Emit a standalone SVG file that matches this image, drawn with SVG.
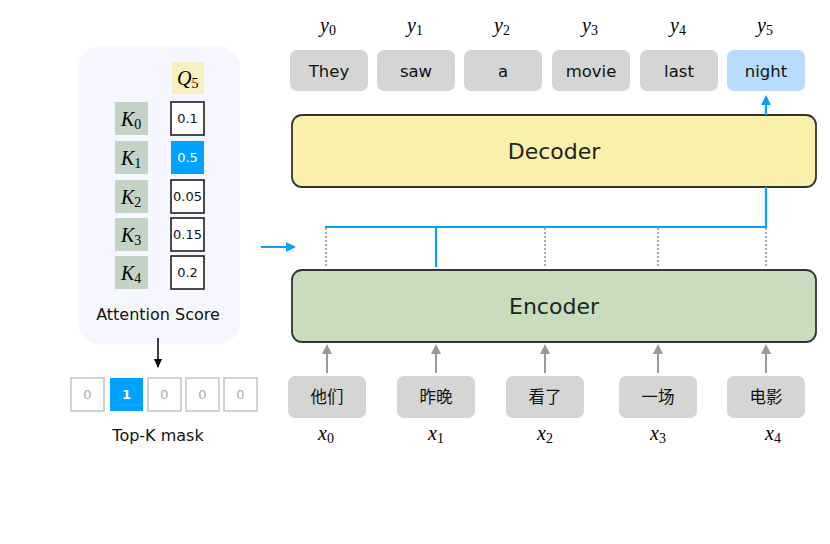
<svg xmlns="http://www.w3.org/2000/svg" width="830" height="544" viewBox="0 0 830 544">
<style>
.sans{font-family:"DejaVu Sans","Noto Sans CJK SC",sans-serif;}
.math{font-family:"Liberation Serif",serif;font-style:italic;font-size:20px;fill:#000;}
.sub{font-style:normal;font-size:14px;}
.tok{fill:#d5d5d5;}
.tt{font-size:16.5px;fill:#111;text-anchor:middle;}
.kb{fill:#c3d4c6;}
.sb{fill:#fff;stroke:#111;stroke-width:1.5;}
.st{font-size:13px;fill:#111;text-anchor:middle;}
.mb{fill:#fff;stroke:#c4c4c4;stroke-width:1.5;}
.mt{font-size:13px;fill:#aaa;text-anchor:middle;}
.gray{stroke:#999;stroke-width:2;fill:none;}
.blue{stroke:#0aa0f5;stroke-width:2.2;fill:none;}
.dot{stroke:#aaa;stroke-width:2;stroke-dasharray:2 2;fill:none;}
</style>
<defs>
<marker id="ag" markerWidth="10" markerHeight="10" refX="8" refY="5" orient="auto" markerUnits="userSpaceOnUse"><path d="M0,0 L10,5 L0,10 z" fill="#999"/></marker>
<marker id="ab" markerWidth="10" markerHeight="10" refX="8" refY="5" orient="auto" markerUnits="userSpaceOnUse"><path d="M0,0 L10,5 L0,10 z" fill="#0aa0f5"/></marker>
<marker id="ak" markerWidth="10" markerHeight="10" refX="8" refY="5" orient="auto" markerUnits="userSpaceOnUse"><path d="M0,1 L9,5 L0,9 z" fill="#000"/></marker>
</defs>
<rect width="830" height="544" fill="#fff"/>

<g id="attention-panel">
<rect x="78" y="46" width="162" height="298" rx="22" fill="#f6f6fe"/>
<rect x="172" y="62" width="32" height="32" fill="#f8f0c0"/>
<text class="math" x="177" y="85">Q<tspan class="sub" dy="3">5</tspan></text>
<rect class="kb" x="115" y="102" width="33" height="33"/>
<text class="math" x="121" y="126">K<tspan class="sub" dy="3">0</tspan></text>
<rect class="kb" x="115" y="141" width="33" height="33"/>
<text class="math" x="121" y="165">K<tspan class="sub" dy="3">1</tspan></text>
<rect class="kb" x="115" y="180" width="33" height="33"/>
<text class="math" x="121" y="204">K<tspan class="sub" dy="3">2</tspan></text>
<rect class="kb" x="115" y="218" width="33" height="33"/>
<text class="math" x="121" y="242">K<tspan class="sub" dy="3">3</tspan></text>
<rect class="kb" x="115" y="256" width="33" height="33"/>
<text class="math" x="121" y="280">K<tspan class="sub" dy="3">4</tspan></text>
<rect class="sb" x="171" y="102" width="33" height="33"/>
<text class="sans st" x="187.5" y="123">0.1</text>
<rect x="171" y="141" width="33" height="33" fill="#00a2ff"/>
<text class="sans st" x="187.5" y="162" style="fill:#fff">0.5</text>
<rect class="sb" x="171" y="180" width="33" height="33"/>
<text class="sans st" x="187.5" y="201">0.05</text>
<rect class="sb" x="171" y="218" width="33" height="33"/>
<text class="sans st" x="187.5" y="239">0.15</text>
<rect class="sb" x="171" y="256" width="33" height="33"/>
<text class="sans st" x="187.5" y="277">0.2</text>
<text class="sans" x="158" y="320" font-size="16" text-anchor="middle" fill="#111">Attention Score</text>
</g>

<g id="topk-mask">
<rect class="mb" x="71" y="378" width="33" height="33"/>
<text class="sans mt" x="87.5" y="399">0</text>
<rect x="110" y="378" width="33" height="33" fill="#00a2ff"/>
<text class="sans" x="126.5" y="399" font-size="13" font-weight="bold" fill="#fff" text-anchor="middle">1</text>
<rect class="mb" x="148" y="378" width="33" height="33"/>
<text class="sans mt" x="164.5" y="399">0</text>
<rect class="mb" x="186" y="378" width="33" height="33"/>
<text class="sans mt" x="202.5" y="399">0</text>
<rect class="mb" x="224" y="378" width="33" height="33"/>
<text class="sans mt" x="240.5" y="399">0</text>
<text class="sans" x="158" y="441" font-size="16" text-anchor="middle" fill="#111">Top-K mask</text>
</g>

<g id="outputs">
<rect class="tok" x="290" y="50" width="78" height="41" rx="7"/>
<text class="sans tt" x="329" y="77">They</text>
<rect class="tok" x="377" y="50" width="78" height="41" rx="7"/>
<text class="sans tt" x="416" y="77">saw</text>
<rect class="tok" x="464" y="50" width="78" height="41" rx="7"/>
<text class="sans tt" x="503" y="77">a</text>
<rect class="tok" x="552" y="50" width="78" height="41" rx="7"/>
<text class="sans tt" x="591" y="77">movie</text>
<rect class="tok" x="640" y="50" width="78" height="41" rx="7"/>
<text class="sans tt" x="679" y="77">last</text>
<rect x="727" y="50" width="78" height="41" rx="7" fill="#b8dcff"/>
<text class="sans tt" x="766" y="77">night</text>
<text class="math" x="320" y="32">y<tspan class="sub" dy="3">0</tspan></text>
<text class="math" x="407" y="32">y<tspan class="sub" dy="3">1</tspan></text>
<text class="math" x="494" y="32">y<tspan class="sub" dy="3">2</tspan></text>
<text class="math" x="582" y="32">y<tspan class="sub" dy="3">3</tspan></text>
<text class="math" x="670" y="32">y<tspan class="sub" dy="3">4</tspan></text>
<text class="math" x="757" y="32">y<tspan class="sub" dy="3">5</tspan></text>
</g>

<g id="decoder">
<rect x="292" y="115" width="524" height="72" rx="10" fill="#f9f1a9" stroke="#333" stroke-width="1.8"/>
<text class="sans" x="554" y="159" font-size="22" text-anchor="middle" fill="#222">Decoder</text>
</g>

<g id="encoder">
<rect x="292" y="270" width="524" height="72" rx="10" fill="#c7ddbe" stroke="#333" stroke-width="1.8"/>
<text class="sans" x="554" y="314" font-size="22" text-anchor="middle" fill="#222">Encoder</text>
</g>

<g id="inputs">
<rect class="tok" x="288" y="376" width="78" height="42" rx="7"/>
<text class="sans tt" x="327" y="403">他们</text>
<rect class="tok" x="397" y="376" width="78" height="42" rx="7"/>
<text class="sans tt" x="436" y="403">昨晚</text>
<rect class="tok" x="506" y="376" width="78" height="42" rx="7"/>
<text class="sans tt" x="545" y="403">看了</text>
<rect class="tok" x="619" y="376" width="78" height="42" rx="7"/>
<text class="sans tt" x="658" y="403">一场</text>
<rect class="tok" x="727" y="376" width="78" height="42" rx="7"/>
<text class="sans tt" x="766" y="403">电影</text>
<text class="math" x="318" y="440">x<tspan class="sub" dy="3">0</tspan></text>
<text class="math" x="428" y="440">x<tspan class="sub" dy="3">1</tspan></text>
<text class="math" x="537" y="440">x<tspan class="sub" dy="3">2</tspan></text>
<text class="math" x="650" y="440">x<tspan class="sub" dy="3">3</tspan></text>
<text class="math" x="765" y="440">x<tspan class="sub" dy="3">4</tspan></text>
</g>

<g id="connectors">
<line class="gray" x1="327" y1="373" x2="327" y2="346" marker-end="url(#ag)"/>
<line class="gray" x1="436" y1="373" x2="436" y2="346" marker-end="url(#ag)"/>
<line class="gray" x1="545" y1="373" x2="545" y2="346" marker-end="url(#ag)"/>
<line class="gray" x1="658" y1="373" x2="658" y2="346" marker-end="url(#ag)"/>
<line class="gray" x1="766" y1="373" x2="766" y2="346" marker-end="url(#ag)"/>
<line class="dot" x1="326" y1="228" x2="326" y2="267"/>
<line class="dot" x1="545" y1="228" x2="545" y2="267"/>
<line class="dot" x1="658" y1="228" x2="658" y2="267"/>
<line class="dot" x1="766" y1="228" x2="766" y2="267"/>
<path class="blue" d="M325,227 H766 V187"/>
<line class="blue" x1="436" y1="227" x2="436" y2="267"/>
<line class="blue" x1="766" y1="115" x2="766" y2="97" marker-end="url(#ab)"/>
<line class="blue" x1="261" y1="247" x2="294" y2="247" marker-end="url(#ab)"/>
<line x1="158" y1="338" x2="158" y2="367" stroke="#000" stroke-width="1.5" marker-end="url(#ak)"/>
</g>
</svg>
